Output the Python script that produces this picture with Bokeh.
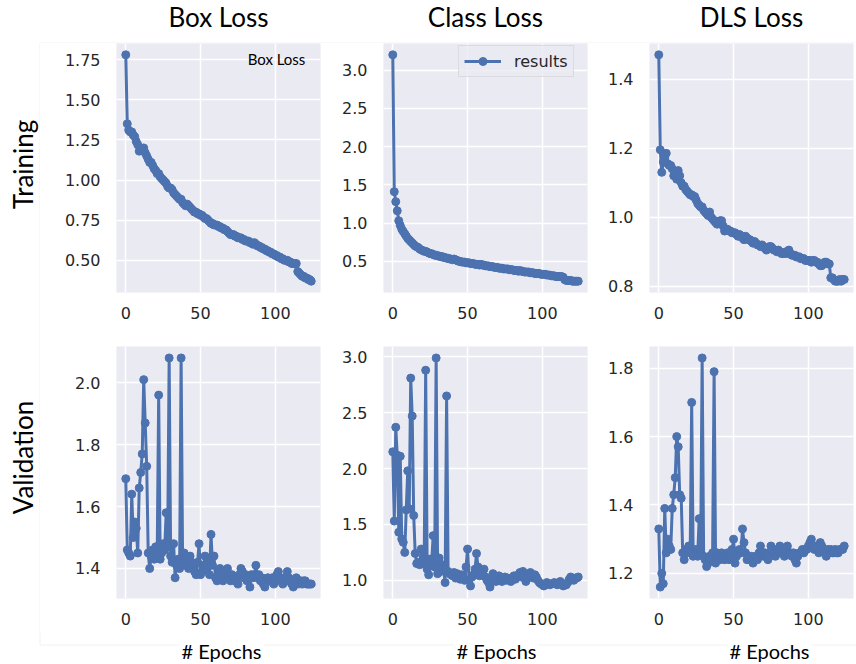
import math

from bokeh.embed import file_html
from bokeh.layouts import column, row
from bokeh.models import (BoxAnnotation, FixedTicker, Label, Legend, LegendItem,
                          NumeralTickFormatter, Range1d)
from bokeh.plotting import figure
from bokeh.resources import INLINE

# ---------------------------------------------------------------- data
epochs = list(range(125))

box_train = [
    1.78, 1.35, 1.31, 1.30, 1.30, 1.28, 1.27, 1.24, 1.22, 1.18,
    1.20, 1.19, 1.20, 1.17, 1.15, 1.13, 1.11, 1.11, 1.09, 1.07,
    1.06, 1.04, 1.04, 1.02, 1.01, 1.00, 0.99, 0.98, 0.96, 0.95,
    0.95, 0.94, 0.92, 0.91, 0.90, 0.89, 0.88, 0.88, 0.86, 0.85,
    0.84, 0.85, 0.84, 0.83, 0.82, 0.81, 0.80, 0.80, 0.79, 0.79,
    0.78, 0.78, 0.77, 0.76, 0.76, 0.75, 0.74, 0.73, 0.73, 0.72,
    0.72, 0.72, 0.71, 0.71, 0.70, 0.70, 0.69, 0.69, 0.68, 0.67,
    0.66, 0.66, 0.66, 0.65, 0.65, 0.64, 0.64, 0.64, 0.63, 0.63,
    0.62, 0.62, 0.62, 0.61, 0.61, 0.60, 0.61, 0.60, 0.59, 0.59,
    0.58, 0.58, 0.57, 0.57, 0.56, 0.56, 0.55, 0.55, 0.54, 0.54,
    0.53, 0.53, 0.52, 0.52, 0.51, 0.51, 0.50, 0.50, 0.50, 0.49,
    0.49, 0.48, 0.48, 0.48, 0.48, 0.43, 0.42, 0.41, 0.40, 0.40,
    0.39, 0.39, 0.38, 0.38, 0.37,
]

class_train = [
    3.20, 1.41, 1.28, 1.16, 1.03, 0.97, 0.92, 0.89, 0.86, 0.83,
    0.80, 0.78, 0.76, 0.74, 0.72, 0.70, 0.69, 0.68, 0.66, 0.65,
    0.64, 0.63, 0.63, 0.62, 0.61, 0.60, 0.60, 0.59, 0.58, 0.58,
    0.57, 0.57, 0.56, 0.56, 0.55, 0.55, 0.54, 0.54, 0.53, 0.53,
    0.52, 0.53, 0.52, 0.51, 0.50, 0.50, 0.49, 0.49, 0.49, 0.48,
    0.48, 0.48, 0.47, 0.47, 0.47, 0.46, 0.46, 0.46, 0.45, 0.46,
    0.45, 0.45, 0.44, 0.44, 0.44, 0.43, 0.43, 0.43, 0.42, 0.42,
    0.42, 0.41, 0.41, 0.41, 0.40, 0.40, 0.40, 0.40, 0.39, 0.39,
    0.39, 0.38, 0.38, 0.38, 0.37, 0.38, 0.37, 0.37, 0.36, 0.36,
    0.36, 0.36, 0.35, 0.35, 0.35, 0.34, 0.34, 0.34, 0.34, 0.33,
    0.33, 0.33, 0.33, 0.32, 0.32, 0.32, 0.31, 0.31, 0.31, 0.30,
    0.30, 0.30, 0.30, 0.30, 0.29, 0.26, 0.25, 0.25, 0.25, 0.25,
    0.24, 0.24, 0.24, 0.24, 0.24,
]

dls_train = [
    1.47, 1.195, 1.13, 1.16, 1.17, 1.185, 1.155, 1.15, 1.15, 1.14,
    1.12, 1.12, 1.11, 1.135, 1.12, 1.10, 1.09, 1.09, 1.08, 1.075,
    1.07, 1.065, 1.065, 1.06, 1.06, 1.05, 1.04, 1.035, 1.03, 1.03,
    1.02, 1.015, 1.01, 1.005, 1.015, 1.00, 0.995, 0.99, 0.985, 0.98,
    0.985, 0.99, 0.99, 0.975, 0.96, 0.965, 0.965, 0.96, 0.96, 0.955,
    0.955, 0.955, 0.95, 0.945, 0.95, 0.945, 0.94, 0.935, 0.945, 0.94,
    0.935, 0.935, 0.93, 0.925, 0.93, 0.925, 0.92, 0.92, 0.915, 0.92,
    0.915, 0.91, 0.905, 0.91, 0.915, 0.915, 0.91, 0.905, 0.905, 0.90,
    0.905, 0.90, 0.895, 0.895, 0.895, 0.90, 0.895, 0.905, 0.895, 0.89,
    0.89, 0.89, 0.885, 0.885, 0.885, 0.88, 0.88, 0.88, 0.875, 0.875,
    0.875, 0.875, 0.87, 0.875, 0.875, 0.87, 0.87, 0.865, 0.86, 0.86,
    0.865, 0.87, 0.87, 0.865, 0.865, 0.825, 0.825, 0.82, 0.815, 0.815,
    0.815, 0.82, 0.815, 0.82, 0.82,
]

box_val = [
    1.69, 1.46, 1.45, 1.44, 1.64, 1.50, 1.55, 1.53, 1.45, 1.66,
    1.71, 1.77, 2.01, 1.87, 1.73, 1.45, 1.40, 1.44, 1.46, 1.43,
    1.47, 1.44, 1.96, 1.43, 1.45, 1.48, 1.46, 1.58, 1.47, 2.08,
    1.44, 1.42, 1.48, 1.37, 1.41, 1.43, 1.40, 2.08, 1.42, 1.45,
    1.41, 1.44, 1.40, 1.44, 1.42, 1.41, 1.39, 1.38, 1.42, 1.48,
    1.38, 1.39, 1.41, 1.44, 1.40, 1.43, 1.38, 1.51, 1.41, 1.44,
    1.37, 1.36, 1.39, 1.40, 1.37, 1.36, 1.39, 1.38, 1.40, 1.37,
    1.36, 1.38, 1.37, 1.36, 1.37, 1.35, 1.38, 1.40, 1.39, 1.37,
    1.38, 1.36, 1.37, 1.34, 1.38, 1.37, 1.38, 1.41, 1.37, 1.38,
    1.36, 1.37, 1.35, 1.34, 1.36, 1.37, 1.36, 1.36, 1.37, 1.35,
    1.36, 1.38, 1.39, 1.37, 1.36, 1.35, 1.37, 1.36, 1.39, 1.37,
    1.36, 1.35, 1.34, 1.36, 1.37, 1.35, 1.36, 1.36, 1.35, 1.36,
    1.36, 1.35, 1.35, 1.35, 1.35,
]

class_val = [
    2.15, 1.53, 2.37, 2.12, 1.43, 2.11, 1.37, 1.34, 1.25, 1.63,
    1.98, 1.64, 2.81, 2.47, 1.58, 1.24, 1.15, 1.16, 1.14, 1.28,
    1.17, 1.15, 2.88, 1.10, 1.05, 1.19, 1.16, 1.40, 1.12, 2.99,
    1.06, 1.20, 1.08, 1.14, 1.10, 0.98, 2.65, 1.08, 1.06, 1.05,
    1.04, 1.07, 1.02, 1.06, 1.03, 1.01, 1.05, 1.04, 1.00, 1.12,
    1.28, 1.00, 0.95, 1.03, 1.05, 1.10, 1.24, 1.12, 1.04, 1.08,
    1.06, 1.10, 1.03, 1.00, 0.98, 0.94, 1.00, 1.06, 1.03, 0.99,
    1.01, 1.04, 1.00, 0.99, 1.02, 1.03, 1.00, 1.02, 1.01, 0.99,
    1.02, 1.04, 1.01, 1.03, 1.05, 1.07, 1.03, 1.08, 1.04, 0.99,
    1.02, 1.05, 1.07, 1.04, 1.02, 1.05, 1.03, 1.00, 0.98, 0.97,
    0.96, 0.95, 0.96, 0.98, 0.97, 0.96, 0.97, 0.97, 0.98, 0.97,
    0.96, 0.97, 0.99, 0.97, 0.95, 0.96, 0.96, 0.98, 1.01, 1.03,
    1.02, 1.00, 1.02, 1.02, 1.03,
]

dls_val = [
    1.33, 1.16, 1.20, 1.17, 1.39, 1.26, 1.30, 1.28, 1.27, 1.39,
    1.43, 1.48, 1.60, 1.57, 1.43, 1.42, 1.26, 1.24, 1.26, 1.27,
    1.28, 1.26, 1.70, 1.25, 1.26, 1.27, 1.25, 1.36, 1.26, 1.83,
    1.25, 1.24, 1.22, 1.23, 1.25, 1.24, 1.26, 1.79, 1.23, 1.26,
    1.25, 1.24, 1.26, 1.25, 1.24, 1.25, 1.26, 1.24, 1.25, 1.27,
    1.30, 1.23, 1.25, 1.26, 1.27, 1.26, 1.33, 1.29, 1.26, 1.24,
    1.25, 1.24, 1.25, 1.23, 1.24, 1.25, 1.24, 1.26, 1.28, 1.26,
    1.25, 1.26, 1.25, 1.24, 1.25, 1.28, 1.27, 1.26, 1.25, 1.27,
    1.26, 1.28, 1.27, 1.26, 1.25, 1.27, 1.28, 1.26, 1.26, 1.25,
    1.26, 1.24, 1.23, 1.25, 1.26, 1.26, 1.27, 1.26, 1.27, 1.27,
    1.28, 1.29, 1.30, 1.28, 1.27, 1.28, 1.27, 1.26, 1.29, 1.28,
    1.27, 1.26, 1.25, 1.27, 1.26, 1.27, 1.26, 1.26, 1.27, 1.26,
    1.26, 1.27, 1.27, 1.27, 1.28,
]

column_titles = ["Box Loss", "Class Loss", "DLS Loss"]
row_titles = ["Training", "Validation"]
x_label = "# Epochs"
legend_label = "results"
inner_label = "Box Loss"

x_ticks = [0, 50, 100]
y_ticks = [
    [[0.50, 0.75, 1.00, 1.25, 1.50, 1.75], [0.5, 1.0, 1.5, 2.0, 2.5, 3.0], [0.8, 1.0, 1.2, 1.4]],
    [[1.4, 1.6, 1.8, 2.0], [1.0, 1.5, 2.0, 2.5, 3.0], [1.2, 1.4, 1.6, 1.8]],
]
y_formats = [["0.00", "0.0", "0.0"], ["0.0", "0.0", "0.0"]]
series = [[box_train, class_train, dls_train], [box_val, class_val, dls_val]]

# ---------------------------------------------------------------- styling / layout
BLUE = "#4C72B0"
PANEL_BG = "#EAEAF2"
TICK_COLOR = "#262626"
RULE_COLOR = "#cdcdcd"
HEAD_FONT = "Lato"

PAGE_W, PAGE_H = 856, 664
STRIP_W = 40          # left strip holding the row names
HEAD_H = 43           # header strip holding the column names
FOOT_H = 32           # footer strip holding the x-axis names

# canvas widths and borders of the three panel columns, heights of the two rows
COLS = [dict(w=293, left=76, right=13), dict(w=267, left=50, right=13), dict(w=256, left=49, right=3)]
ROWS = [dict(h=287, top=0, bottom=38), dict(h=302, top=16, bottom=34)]
RULE_X = 39.5


def frame_centers():
    xs, x0 = [], STRIP_W
    for cs in COLS:
        xs.append(x0 + cs["left"] + (cs["w"] - cs["left"] - cs["right"]) / 2)
        x0 += cs["w"]
    return xs


def blank(width, height):
    p = figure(width=width, height=height, x_range=Range1d(0, 1), y_range=Range1d(0, 1),
               output_backend="svg", toolbar_location=None, x_axis_type=None, y_axis_type=None,
               min_border=0, background_fill_color="white", border_fill_color="white",
               outline_line_color=None)
    p.grid.visible = False
    p.title.visible = False
    return p


def rule(p, left, right, top, bottom):
    p.add_layout(BoxAnnotation(left=left, right=right, top=top, bottom=bottom,
                               left_units="canvas", right_units="canvas",
                               top_units="canvas", bottom_units="canvas",
                               fill_color=None, fill_alpha=0, line_color=RULE_COLOR, line_width=1))


def text(p, x, y, s, size, angle=0.0, bg=None):
    kw = dict(background_fill_color=bg, padding=2) if bg else {}
    p.add_layout(Label(x=x, y=y, x_units="canvas", y_units="canvas", text=s, angle=angle,
                       text_font=HEAD_FONT, text_font_size=size, text_align="center",
                       text_baseline="middle", text_color="black", **kw))


def padded(vals, frac=0.05):
    lo, hi = min(vals), max(vals)
    pad = (hi - lo) * frac
    return lo - pad, hi + pad


def panel(r, c):
    vals = series[r][c]
    cs, rs = COLS[c], ROWS[r]
    x_lo, x_hi = padded(epochs)
    y_lo, y_hi = padded(vals)
    p = figure(width=cs["w"], height=rs["h"],
               x_range=Range1d(x_lo, x_hi), y_range=Range1d(y_lo, y_hi),
               output_backend="svg", toolbar_location=None,
               min_border_left=cs["left"], min_border_right=cs["right"],
               min_border_top=rs["top"], min_border_bottom=rs["bottom"],
               background_fill_color=PANEL_BG, border_fill_color="white",
               outline_line_color=None)
    p.title.visible = False

    line_r = p.line(epochs, vals, line_color=BLUE, line_width=3)
    dot_r = p.scatter(epochs, vals, size=8, marker="circle",
                      fill_color=BLUE, line_color=BLUE)

    xt = FixedTicker(ticks=x_ticks)
    yt = FixedTicker(ticks=y_ticks[r][c])
    p.xaxis.ticker = xt
    p.yaxis.ticker = yt
    p.xgrid.ticker = xt
    p.ygrid.ticker = yt
    p.yaxis.formatter = NumeralTickFormatter(format=y_formats[r][c])
    for ax in (p.xaxis[0], p.yaxis[0]):
        ax.axis_line_color = None
        ax.major_tick_line_color = None
        ax.minor_tick_line_color = None
        ax.major_tick_out = 0
        ax.major_tick_in = 0
        ax.minor_tick_out = 0
        ax.minor_tick_in = 0
        ax.major_label_text_font = "DejaVu Sans"
        ax.major_label_text_font_size = "16px"
        ax.major_label_text_color = TICK_COLOR
    p.xaxis.major_label_standoff = 14
    p.yaxis.major_label_standoff = 16
    p.grid.grid_line_color = "white"
    p.grid.grid_line_width = 1.5
    return p, line_r, dot_r


# ---------------------------------------------------------------- panels
panel_rows = []
for r in range(2):
    row_figs = []
    for c in range(3):
        p, line_r, dot_r = panel(r, c)
        if r == 0 and c == 0:
            p.add_layout(Label(x=160, y=234, x_units="screen", y_units="screen",
                               text=inner_label, text_font=HEAD_FONT, text_font_size="15px",
                               text_align="center", text_baseline="middle", text_color="black"))
        if r == 0 and c == 1:
            legend = Legend(items=[LegendItem(label=legend_label, renderers=[line_r, dot_r])],
                            location=(75, 215), orientation="vertical",
                            label_text_font="DejaVu Sans", label_text_font_size="16px",
                            label_text_color=TICK_COLOR, glyph_width=37, glyph_height=20,
                            label_height=20, label_standoff=13, padding=5, spacing=0, margin=0,
                            border_line_color="#cccccc", border_line_width=1,
                            background_fill_color=PANEL_BG, background_fill_alpha=0.8)
            p.add_layout(legend)
        row_figs.append(p)
    panel_rows.append(row(*row_figs, spacing=0))

centers = frame_centers()
body_h = sum(rs["h"] for rs in ROWS)

# header: column names above a light rule
header = blank(PAGE_W, HEAD_H)
rule(header, RULE_X, PAGE_W + 20, HEAD_H - 0.5, HEAD_H + 20)
for cx, name in zip(centers, column_titles):
    text(header, cx, 16, name, "26px")

# left strip: row names beside a light rule
strip = blank(STRIP_W, body_h)
rule(strip, RULE_X, STRIP_W + 20, -20, body_h + 20)
row_mid = [HEAD_H + 121, HEAD_H + 414]
for cy, name in zip(row_mid, row_titles):
    text(strip, 22, cy - HEAD_H, name, "26px", angle=math.pi / 2)

# footer: x-axis names sitting on the bottom rule
footer = blank(PAGE_W, FOOT_H)
rule(footer, RULE_X, PAGE_W + 20, -20, 12.5)
for cx, shift in zip(centers, [3, 11, 18]):
    text(footer, cx + shift, 18, x_label, "20px", bg="white")

layout = column(header, row(strip, column(*panel_rows, spacing=0), spacing=0), footer, spacing=0)

with open("out.html", "w") as fh:
    fh.write(file_html(layout, INLINE))
